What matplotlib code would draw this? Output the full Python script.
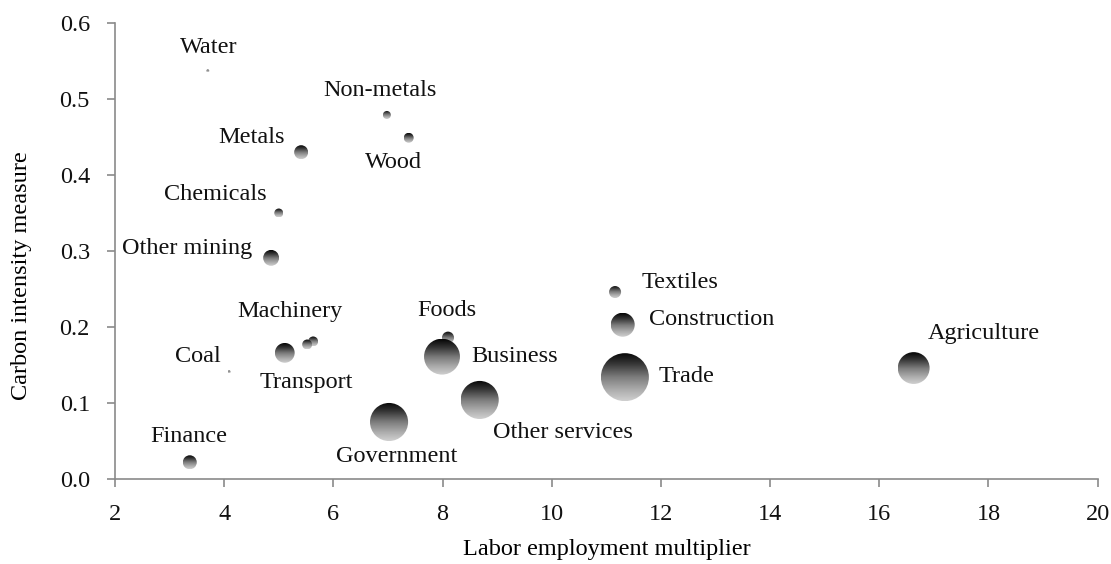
import numpy as np
import matplotlib
matplotlib.use("Agg")
import matplotlib.pyplot as plt
from matplotlib.patches import Ellipse
from matplotlib.colors import LinearSegmentedColormap

# sector data
sectors = ["Water", "Non-metals", "Wood", "Metals", "Chemicals", "Other mining",
           "Machinery", "", "Transport", "Coal", "Finance", "Government",
           "Foods", "Business", "Other services", "Textiles", "Construction",
           "Trade", "Agriculture"]
employment = [3.70, 6.98, 7.38, 5.41, 5.00, 4.86,
              5.63, 5.52, 5.11, 4.09, 3.37, 7.02,
              8.10, 7.99, 8.68, 11.16, 11.30,
              11.34, 16.63]
carbon = [0.537, 0.479, 0.449, 0.430, 0.350, 0.291,
          0.181, 0.177, 0.166, 0.141, 0.022, 0.075,
          0.186, 0.161, 0.104, 0.246, 0.203,
          0.134, 0.146]
bubble_size = [0.4, 2.8, 4.3, 8.5, 3.5, 11,
               4.3, 4.3, 17, 0.4, 8.5, 63,
               6.3, 56, 63, 6.3, 25,
               100, 44]

# label offsets in pixels from the bubble centre (layout only)
label_offsets = [(1, 23), (-7, 24), (-15, -25), (-50, 15), (-63, 19), (-84, 9),
                 (-23, 30), (0, 0), (22, -30), (-31, 15), (-1, 26), (8, -34),
                 (-1, 27), (73, 0), (83, -33), (65, 10), (89, 5),
                 (62, 1), (70, 35)]

MAX_RADIUS_PX = 24
XLIM = (2, 20)
YLIM = (0, 0.6)
FS = 17.5

plt.rcParams["font.family"] = ["Liberation Serif", "DejaVu Serif"]
plt.rcParams["font.size"] = FS

fig = plt.figure(figsize=(11.11, 5.64), dpi=100)
ax = fig.add_axes([0.1035, 0.1507, 0.8845, 0.8085])
ax.set_xlim(*XLIM)
ax.set_ylim(*YLIM)

# pixels per data unit, so bubbles come out round
ax_w = 0.8845 * 1111
ax_h = 0.8085 * 564
sx = ax_w / (XLIM[1] - XLIM[0])
sy = ax_h / (YLIM[1] - YLIM[0])

cmap = LinearSegmentedColormap.from_list(
    "bubble", ["#050505", "#3a3a3a", "#7a7a7a", "#a8a8a8", "#cfcfcf"])
grad = np.linspace(0, 1, 64).reshape(-1, 1)

for x, y, s in zip(employment, carbon, bubble_size):
    r = MAX_RADIUS_PX * np.sqrt(s / 100.0)
    w, h = 2 * r / sx, 2 * r / sy
    ell = Ellipse((x, y), w, h, facecolor="none", edgecolor="none")
    ax.add_patch(ell)
    im = ax.imshow(grad, cmap=cmap, aspect="auto", origin="upper",
                   extent=(x - w / 2, x + w / 2, y - h / 2, y + h / 2),
                   interpolation="bilinear", zorder=3)
    im.set_clip_path(ell)

for name, x, y, (dx, dy) in zip(sectors, employment, carbon, label_offsets):
    if not name:
        continue
    ax.annotate(name, (x, y), xytext=(dx, dy), textcoords="offset pixels",
                ha="center", va="center", color="#111111", zorder=4)

ax.set_xlim(*XLIM)
ax.set_ylim(*YLIM)
ax.set_xticks(np.arange(2, 21, 2))
ax.set_yticks(np.arange(0, 0.61, 0.1))
ax.set_yticklabels([f"{v:.1f}" for v in np.arange(0, 0.61, 0.1)])

for side in ["top", "right"]:
    ax.spines[side].set_visible(False)
for side in ["left", "bottom"]:
    ax.spines[side].set_color("#8a8a8a")
    ax.spines[side].set_linewidth(1.2)
ax.tick_params(direction="out", length=6, width=1.2, color="#8a8a8a",
               labelcolor="#111111", labelsize=FS)
ax.tick_params(axis="x", pad=12)
ax.tick_params(axis="y", pad=12)

ax.set_xlabel("Labor employment multiplier", fontsize=FS)
ax.set_ylabel("Carbon intensity measure", fontsize=FS)
ax.xaxis.set_label_coords(0.5, -0.132)
ax.yaxis.set_label_coords(-0.084, 0.447)

fig.savefig("out.png", dpi=100)
